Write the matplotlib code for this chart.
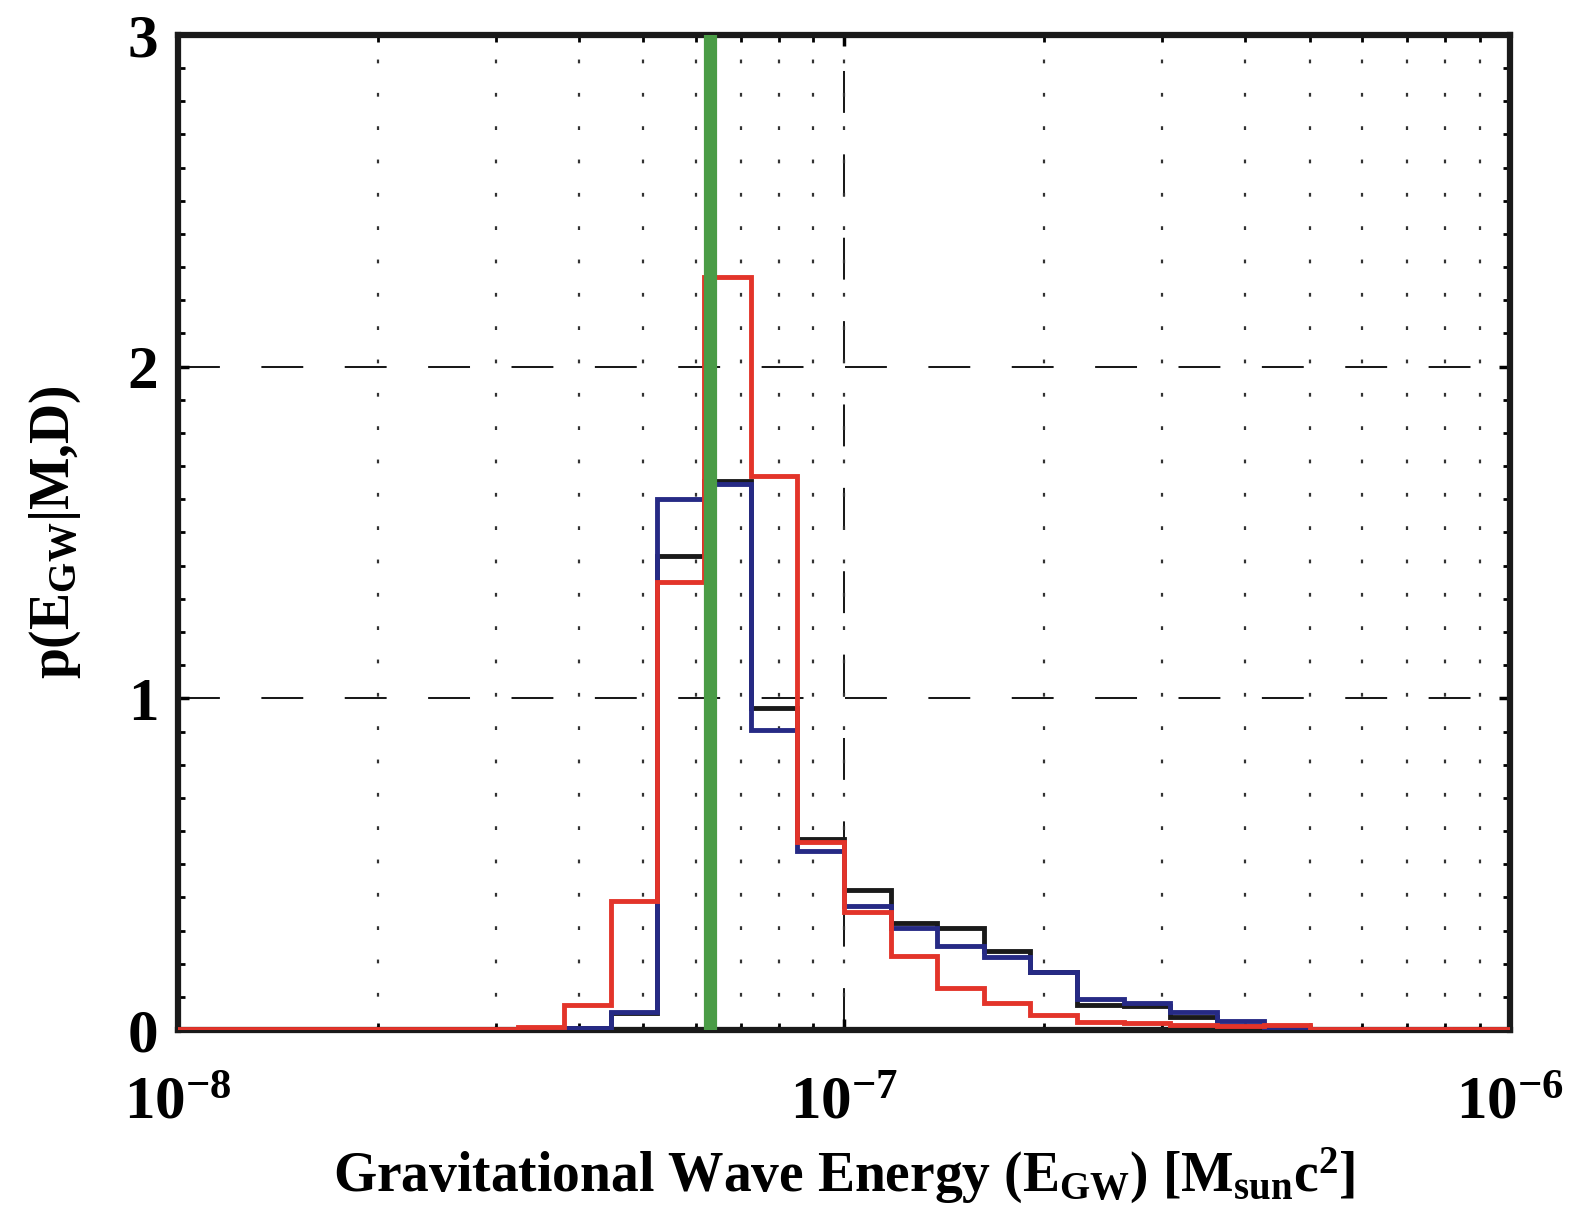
import numpy as np
import matplotlib
matplotlib.use('Agg')
import matplotlib.pyplot as plt
from matplotlib.ticker import MultipleLocator, LogLocator, NullFormatter

# bin edges (log10 of E_GW), bins of 0.07 decade, one edge sits on 1e-7
log_edges = [-8.05, -7.98, -7.91, -7.84, -7.77, -7.70, -7.63, -7.56, -7.49, -7.42, -7.35,
             -7.28, -7.21, -7.14, -7.07, -7.00, -6.93, -6.86, -6.79, -6.72, -6.65,
             -6.58, -6.51, -6.44, -6.37, -6.30, -6.23, -6.16, -6.09, -6.02, -5.95]

# histogram heights p(E_GW|M,D), one per bin
black_vals = [0.0, 0.0, 0.0, 0.0, 0.0, 0.0, 0.0, 0.001, 0.002, 0.006, 0.05,
              1.43, 1.655, 0.97, 0.575, 0.422, 0.322, 0.308, 0.239, 0.176, 0.075,
              0.072, 0.04, 0.012, 0.006, 0.002, 0.002, 0.002, 0.001, 0.001]
blue_vals = [0.0, 0.0, 0.0, 0.0, 0.0, 0.0, 0.0, 0.001, 0.002, 0.006, 0.055,
             1.60, 1.645, 0.905, 0.54, 0.374, 0.307, 0.254, 0.221, 0.176, 0.093,
             0.08, 0.055, 0.028, 0.01, 0.002, 0.002, 0.002, 0.001, 0.001]
red_vals = [0.002, 0.002, 0.002, 0.002, 0.002, 0.002, 0.002, 0.003, 0.01, 0.075, 0.39,
            1.35, 2.27, 1.67, 0.567, 0.356, 0.223, 0.127, 0.082, 0.045, 0.025,
            0.02, 0.015, 0.012, 0.014, 0.004, 0.004, 0.004, 0.003, 0.003]

e_marker = 6.3e-8
xticks = [1e-8, 1e-7, 1e-6]
xticklabels = [r'$10^{-8}$', r'$10^{-7}$', r'$10^{-6}$']
yticks = [0, 1, 2, 3]

plt.rcParams['font.family'] = 'Liberation Serif'
plt.rcParams['font.weight'] = 'bold'
plt.rcParams['mathtext.fontset'] = 'custom'
plt.rcParams['mathtext.rm'] = 'Liberation Serif:bold'
plt.rcParams['mathtext.bf'] = 'Liberation Serif:bold'
plt.rcParams['mathtext.it'] = 'Liberation Serif:bold'
plt.rcParams['mathtext.default'] = 'bf'

fig = plt.figure(figsize=(15.69, 12.22), dpi=100)
ax = fig.add_axes([0.1134, 0.1571, 0.849, 0.8143])

edges = 10.0 ** np.array(log_edges)
ax.stairs(black_vals, edges, color='#1a1a1a', lw=3.5, zorder=3)
ax.stairs(blue_vals, edges, color='#262a85', lw=3.5, zorder=3)
ax.stairs(red_vals, edges, color='#e3342a', lw=3.5, zorder=3)
ax.axvline(e_marker, color='#4a9c46', lw=9.5, zorder=5)

ax.set_xscale('log')
ax.set_xlim(1e-8, 1e-6)
ax.set_ylim(0, 3)

ax.set_xticks(xticks)
ax.set_xticklabels(xticklabels)
ax.xaxis.set_minor_locator(LogLocator(base=10, subs=np.arange(1, 10)))
ax.xaxis.set_minor_formatter(NullFormatter())
ax.xaxis.remove_overlapping_locs = False
ax.set_yticks(yticks)
ax.yaxis.set_minor_locator(MultipleLocator(0.1))

ax.grid(True, which='major', color='#1a1a1a', lw=1.45, ls=(0, (20.8, 20.6)))
ax.xaxis.grid(True, which='minor', color='#333333', lw=1.6, ls=(0, (1.7, 13.3)))

ax.tick_params(which='both', direction='in', top=True, right=True, labelsize=44)
ax.tick_params(which='major', length=8, width=2.5)
ax.tick_params(which='minor', length=5, width=2)
ax.tick_params(axis='x', pad=33)
ax.tick_params(axis='y', pad=14)
for s in ax.spines.values():
    s.set_linewidth(4.5)
    s.set_color('#1a1a1a')
    s.set_zorder(2.8)

ax.set_xlabel(r'Gravitational Wave Energy (E$_{GW}$) [M$_{sun}$c$^{2}$]',
              fontsize=40, fontweight='bold', labelpad=10)
ax.set_ylabel(r'p(E$_{GW}$|M,D)', fontsize=40, fontweight='bold', labelpad=32)

fig.savefig('out.png', dpi=100)
